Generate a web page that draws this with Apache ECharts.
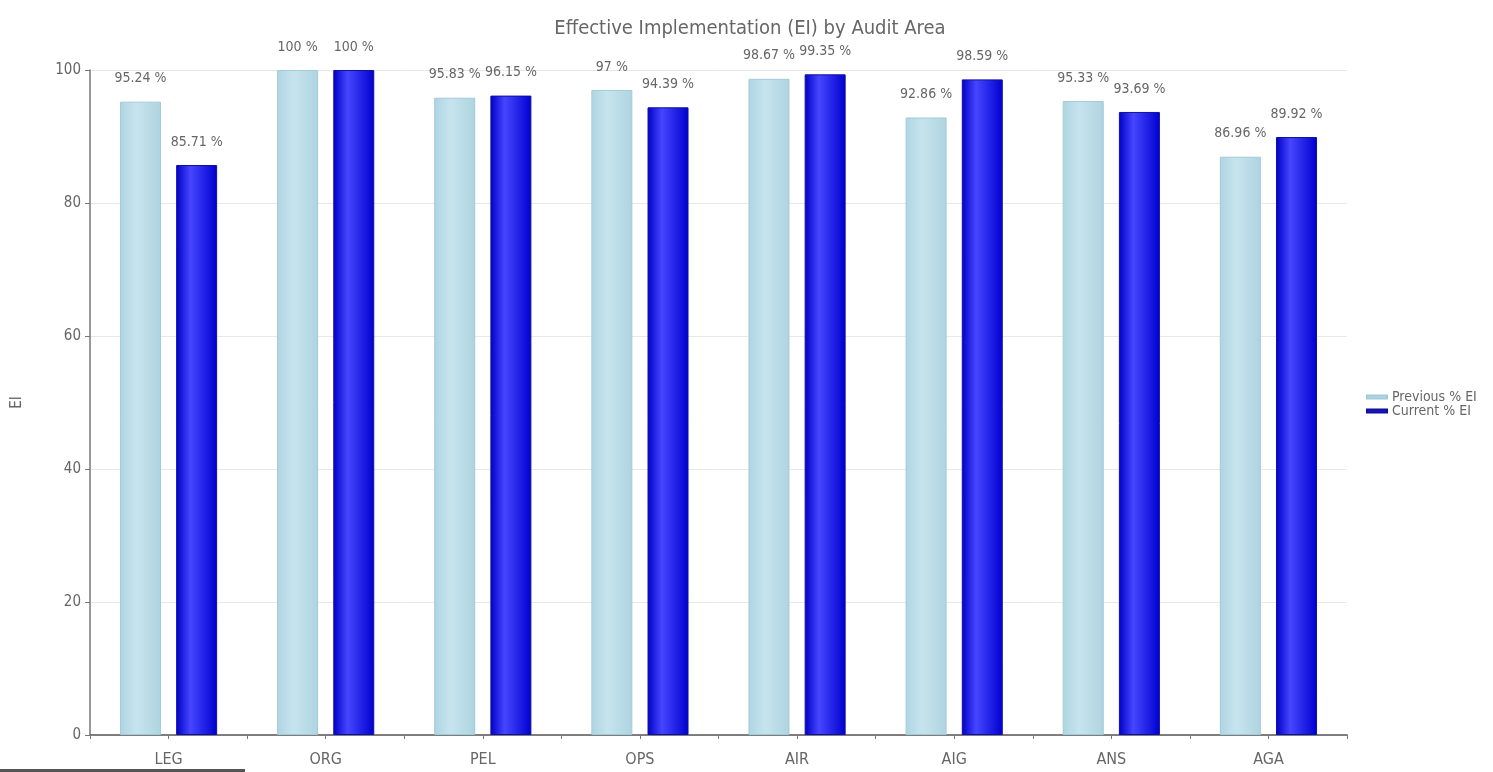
<!DOCTYPE html>
<html><head><meta charset="utf-8">
<script src="https://cdn.jsdelivr.net/npm/echarts@6/dist/echarts.min.js"></script>
<style>html,body{margin:0;padding:0;background:#fff}#c{width:1493px;height:772px}</style>
</head><body><div id="c"></div>
<script>
const categories = ['LEG','ORG','PEL','OPS','AIR','AIG','ANS','AGA'];
const previousEI = [95.24, 100, 95.83, 97, 98.67, 92.86, 95.33, 86.96];
const currentEI = [85.71, 100, 96.15, 94.39, 99.35, 98.59, 93.69, 89.92];
const yTicks = [0, 20, 40, 60, 80, 100];
const seriesNames = ['Previous % EI', 'Current % EI'];
const titleText = 'Effective Implementation (EI) by Audit Area';
const yName = 'EI';

const FONT = "'Liberation Sans Narrow', 'DejaVu Sans Condensed', 'Liberation Sans', sans-serif";
const chart = echarts.init(document.getElementById('c'));
const G = echarts.graphic.LinearGradient;
const labelCfg = {
  show: true, position: 'top', distance: 16,
  formatter: p => p.value + ' %',
  color: '#666', fontFamily: FONT, fontSize: 14
};
chart.setOption({
  animation: false,
  backgroundColor: '#fff',
  title: {
    text: titleText, left: 745, top: 14, textAlign: 'center',
    textStyle: {color: '#666', fontFamily: FONT, fontSize: 20, fontWeight: 'normal'}
  },
  legend: {
    orient: 'vertical', left: 1361, top: 385, itemWidth: 20, itemHeight: 3, itemGap: 0,
    icon: 'rect',
    textStyle: {color: '#666', fontFamily: FONT, fontSize: 14, lineHeight: 13},
    data: [
      {name: seriesNames[0], itemStyle: {color: '#b8dce8'}},
      {name: seriesNames[1], itemStyle: {color: '#1a1ad0'}}
    ]
  },
  grid: {left: 90, right: 146, top: 70, bottom: 37},
  xAxis: [
    {
      type: 'category', data: categories, boundaryGap: true,
      axisLine: {lineStyle: {color: '#777', width: 1.5}},
      axisTick: {show: true, interval: 0, length: 4, lineStyle: {color: '#777'}},
      axisLabel: {color: '#666', fontFamily: FONT, fontSize: 16, margin: 17}
    },
    {
      type: 'category', data: categories, position: 'bottom', boundaryGap: true,
      axisLine: {show: true, lineStyle: {color: '#777', width: 1.5}},
      axisTick: {show: true, alignWithLabel: true, interval: 0, length: 4, lineStyle: {color: '#777'}},
      axisLabel: {show: false}
    }
  ],
  yAxis: {
    type: 'value', min: 0, max: 100, interval: 20,
    name: yName, nameLocation: 'middle', nameGap: 65, nameRotate: 90,
    nameTextStyle: {color: '#666', fontFamily: FONT, fontSize: 15},
    axisLine: {show: true, lineStyle: {color: '#777', width: 1.5}},
    axisTick: {show: true, length: 5, lineStyle: {color: '#777'}},
    axisLabel: {color: '#666', fontFamily: FONT, fontSize: 15, margin: 9,
      formatter: v => yTicks.includes(v) ? String(v) : ''},
    splitLine: {show: true, lineStyle: {color: '#e8e8e8'}}
  },
  series: [
    {
      name: seriesNames[0], type: 'bar', data: previousEI, barWidth: 41, barGap: '37%',
      itemStyle: {
        color: new G(0, 0, 1, 0, [
          {offset: 0, color: '#aed5e2'}, {offset: 0.4, color: '#c6e4ee'}, {offset: 1, color: '#aed4e0'}
        ]),
        borderColor: '#a2cad8', borderWidth: 1
      },
      label: labelCfg
    },
    {
      name: seriesNames[1], type: 'bar', data: currentEI, barWidth: 41, barGap: '37%',
      itemStyle: {
        color: new G(0, 0, 1, 0, [
          {offset: 0, color: '#0000c8'}, {offset: 0.35, color: '#4646ff'}, {offset: 1, color: '#0000d0'}
        ]),
        borderColor: '#1010a0', borderWidth: 1
      },
      label: labelCfg
    }
  ],
  graphic: [
    {type: 'rect', left: 0, top: 769, shape: {width: 245, height: 3}, style: {fill: '#555'}}
  ]
});
</script></body></html>
